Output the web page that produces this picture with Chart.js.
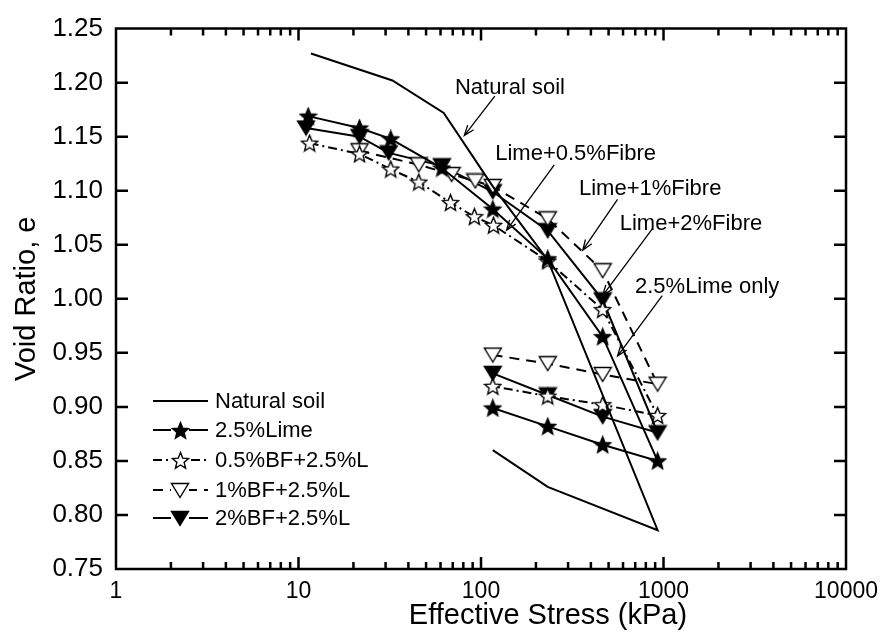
<!DOCTYPE html>
<html>
<head>
<meta charset="utf-8">
<script src="https://cdn.jsdelivr.net/npm/chart.js@4.4.1/dist/chart.umd.min.js"></script>
<style>
body{margin:0;background:#fff;}
canvas{display:block;}
</style>
</head>
<body>
<canvas id="voidChart" width="887" height="637"></canvas>
<script>
const FONT = 'Arial, "Liberation Sans", sans-serif';

// stress (kPa) and void ratio, load then unload
const natStress  = [11.7, 32.7, 62.5, 116, 232, 928, 232, 116];
const natVoid    = [1.227, 1.202, 1.172, 1.104, 1.036, 0.786, 0.826, 0.860];

const limeStress = [11.3, 21.6, 32, 61, 116, 232, 464, 928, 464, 232, 116];
const limeVoid   = [1.169, 1.158, 1.148, 1.121, 1.083, 1.037, 0.965, 0.850, 0.865, 0.882, 0.899];

const bf05Stress = [11.5, 21.6, 32, 45.6, 68, 92, 117, 232, 464, 928, 464, 232, 116];
const bf05Void   = [1.144, 1.134, 1.120, 1.108, 1.089, 1.076, 1.068, 1.035, 0.990, 0.892, 0.902, 0.910, 0.919];

const bf1Stress  = [21.6, 45.6, 69, 93, 116, 232, 464, 928, 464, 232, 116];
const bf1Void    = [1.137, 1.124, 1.115, 1.109, 1.104, 1.074, 1.026, 0.921, 0.930, 0.940, 0.948];

const bf2Stress  = [11.0, 21.6, 31.2, 61, 116, 232, 464, 928, 464, 232, 116];
const bf2Void    = [1.158, 1.150, 1.135, 1.123, 1.099, 1.063, 0.999, 0.876, 0.891, 0.911, 0.931];

const xTicks = [1, 10, 100, 1000, 10000];
const xMinor = [2, 3, 4, 5, 6, 7, 8, 9];
const yTicks = [0.75, 0.80, 0.85, 0.90, 0.95, 1.00, 1.05, 1.10, 1.15, 1.20, 1.25];

// annotation labels: [text, x, e] and arrows: [fromX, fromE, toX, toE]
const notes = [
  ["Natural soil",   144,  1.195, [119, 1.1875, 81, 1.151]],
  ["Lime+0.5%Fibre", 330,  1.134, [252, 1.124, 138, 1.0634]],
  ["Lime+1%Fibre",   845,  1.102, [560, 1.092, 361, 1.045]],
  ["Lime+2%Fibre",   1414, 1.069, [868, 1.0646, 464, 1.003]],
  ["2.5%Lime only",  1734, 1.011, [984, 1.003, 560, 0.947]]
];

function pts(xs, ys){ return xs.map((x,i)=>({x:x, y:ys[i]})); }

function starImg(fill){
  const c = document.createElement('canvas');
  c.width = 19; c.height = 19;
  const g = c.getContext('2d');
  g.beginPath();
  for(let i=0;i<10;i++){
    const r = i%2 ? 3.8 : 8.6;
    const a = -Math.PI/2 + i*Math.PI/5;
    const px = 9.5 + r*Math.cos(a), py = 10.2 + r*Math.sin(a);
    i ? g.lineTo(px,py) : g.moveTo(px,py);
  }
  g.closePath();
  g.fillStyle = fill; g.fill();
  g.strokeStyle = '#000'; g.lineWidth = 1.4; g.stroke();
  return c;
}

function triImg(fill){
  const c = document.createElement('canvas');
  c.width = 20; c.height = 17;
  const g = c.getContext('2d');
  g.beginPath();
  g.moveTo(1.5,1.5); g.lineTo(18.5,1.5); g.lineTo(10,15.5);
  g.closePath();
  g.fillStyle = fill; g.fill();
  g.strokeStyle = '#000'; g.lineWidth = 1.4; g.stroke();
  return c;
}

const mk = {
  starFill: starImg('#000'),
  starOpen: starImg('#fff'),
  triFill: triImg('#000'),
  triOpen: triImg('#fff')
};

const series = [
  {label:"Natural soil",   data:pts(natStress, natVoid),   dash:[],          marker:null},
  {label:"2.5%Lime",       data:pts(limeStress, limeVoid), dash:[],          marker:mk.starFill},
  {label:"0.5%BF+2.5%L",   data:pts(bf05Stress, bf05Void), dash:[9,4,2,4],   marker:mk.starOpen},
  {label:"1%BF+2.5%L",     data:pts(bf1Stress, bf1Void),   dash:[10,7],      marker:mk.triOpen},
  {label:"2%BF+2.5%L",     data:pts(bf2Stress, bf2Void),   dash:[],          marker:mk.triFill}
];

// frame and inward ticks drawn under the data
const frame = {
  id:'frame',
  beforeDatasetsDraw(chart){
    const ctx = chart.ctx;
    const a = chart.chartArea;
    const xs = chart.scales.x, ys = chart.scales.y;
    ctx.save();
    ctx.strokeStyle = '#000';
    ctx.lineWidth = 2.5;
    ctx.beginPath();
    ctx.rect(a.left, a.top, a.right - a.left, a.bottom - a.top);
    xTicks.forEach(d=>{
      const px = xs.getPixelForValue(d);
      ctx.moveTo(px, a.bottom); ctx.lineTo(px, a.bottom - 12);
      ctx.moveTo(px, a.top);    ctx.lineTo(px, a.top + 12);
      if(d < 10000){
        xMinor.forEach(m=>{
          const qx = xs.getPixelForValue(d*m);
          ctx.moveTo(qx, a.bottom); ctx.lineTo(qx, a.bottom - 7);
          ctx.moveTo(qx, a.top);    ctx.lineTo(qx, a.top + 7);
        });
      }
    });
    yTicks.forEach(v=>{
      const py = ys.getPixelForValue(v);
      ctx.moveTo(a.left, py);  ctx.lineTo(a.left + 12, py);
      ctx.moveTo(a.right, py); ctx.lineTo(a.right - 12, py);
    });
    ctx.stroke();
    ctx.restore();
  }
};

const decor = {
  id:'decor',
  afterDraw(chart){
    const ctx = chart.ctx;
    const a = chart.chartArea;
    const xs = chart.scales.x, ys = chart.scales.y;
    ctx.save();
    ctx.fillStyle = '#000';
    ctx.strokeStyle = '#000';

    // axis titles
    ctx.font = '29px ' + FONT;
    ctx.textAlign = 'center';
    ctx.textBaseline = 'middle';
    ctx.fillText('Effective Stress (kPa)', 548, 616);
    ctx.save();
    ctx.translate(27, (a.top+a.bottom)/2);
    ctx.rotate(-Math.PI/2);
    ctx.fillText('Void Ratio, e', 0, 0);
    ctx.restore();

    // annotations with arrows
    ctx.font = '22px ' + FONT;
    ctx.lineWidth = 1.3;
    notes.forEach(n=>{
      ctx.fillText(n[0], xs.getPixelForValue(n[1]), ys.getPixelForValue(n[2]));
      const ar = n[3];
      const x1 = xs.getPixelForValue(ar[0]), y1 = ys.getPixelForValue(ar[1]);
      const x2 = xs.getPixelForValue(ar[2]), y2 = ys.getPixelForValue(ar[3]);
      ctx.beginPath();
      ctx.moveTo(x1,y1); ctx.lineTo(x2,y2);
      const ang = Math.atan2(y2-y1, x2-x1);
      ctx.moveTo(x2 - 11*Math.cos(ang-0.35), y2 - 11*Math.sin(ang-0.35));
      ctx.lineTo(x2, y2);
      ctx.lineTo(x2 - 11*Math.cos(ang+0.35), y2 - 11*Math.sin(ang+0.35));
      ctx.stroke();
    });

    // legend
    ctx.font = '22px ' + FONT;
    ctx.textAlign = 'left';
    const rowY = [401, 430, 460, 490, 518];
    series.forEach((s,i)=>{
      const y = rowY[i];
      ctx.lineWidth = 2;
      ctx.setLineDash(s.dash);
      ctx.beginPath();
      ctx.moveTo(153, y); ctx.lineTo(208, y);
      ctx.stroke();
      ctx.setLineDash([]);
      if(s.marker){
        ctx.fillStyle = '#fff';
        ctx.fillRect(171, y-9, 18, 18);
        ctx.drawImage(s.marker, Math.round(180 - s.marker.width/2), Math.round(y - s.marker.height/2));
      }
      ctx.fillStyle = '#000';
      ctx.fillText(s.label, 215, y+1);
    });
    ctx.restore();
  }
};

new Chart(document.getElementById('voidChart'), {
  type:'line',
  data:{
    datasets: series.map(s=>({
      label:s.label,
      data:s.data,
      borderColor:'#000',
      backgroundColor:'#000',
      borderWidth:2,
      borderDash:s.dash,
      tension:0,
      pointStyle: s.marker || false,
      pointRadius: s.marker ? 8 : 0,
      pointHoverRadius: s.marker ? 8 : 0
    }))
  },
  options:{
    responsive:false,
    animation:false,
    events:[],
    layout:{padding:{top:25, right:35, left:0, bottom:0}},
    plugins:{legend:{display:false}, tooltip:{enabled:false}},
    scales:{
      x:{
        type:'logarithmic',
        min:1, max:10000,
        afterFit(s){ s.height = 68; },
        afterBuildTicks(s){ s.ticks = xTicks.map(v=>({value:v})); },
        grid:{display:false, drawTicks:false},
        border:{display:false},
        ticks:{
          color:'#000',
          font:{family:FONT, size:23},
          padding:9,
          maxRotation:0,
          autoSkip:false,
          callback:v=>String(v)
        }
      },
      y:{
        min:0.75, max:1.25,
        afterFit(s){ s.width = 116; },
        afterBuildTicks(s){ s.ticks = yTicks.map(v=>({value:v})); },
        grid:{display:false, drawTicks:false},
        border:{display:false},
        ticks:{
          color:'#000',
          font:{family:FONT, size:26},
          padding:13,
          callback:v=>v.toFixed(2)
        }
      }
    }
  },
  plugins:[frame, decor]
});
</script>
</body>
</html>
